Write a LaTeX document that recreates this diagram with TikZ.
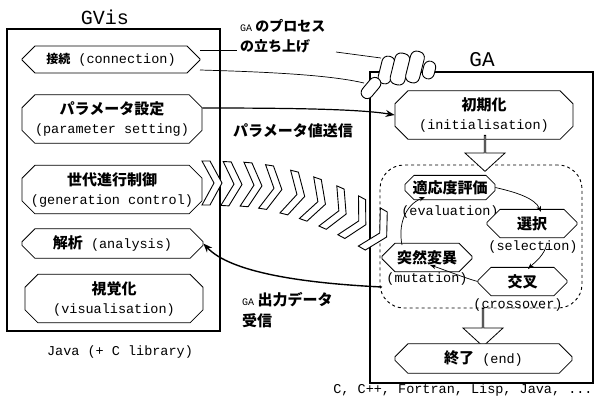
\documentclass[tikz,border=0pt]{standalone}
\usepackage{fontspec}
\setmonofont{Liberation Mono}
\newfontfamily\jpfam{Noto Sans CJK JP}
\usetikzlibrary{shapes.misc,shapes.arrows,arrows.meta}
\newcommand\JB[1]{{\jpfam\bfseries\fontsize{15}{19}\selectfont #1}}
\newcommand\JS[1]{{\jpfam\bfseries\fontsize{12}{15}\selectfont #1}}
\newcommand\GAsmall{{\ttfamily\mdseries\fontsize{10}{12}\selectfont GA}}
\tikzset{
  frame/.style={draw, line width=2.6pt, minimum width=#1},
  proc/.style={chamfered rectangle, chamfered rectangle xsep=6pt, chamfered rectangle ysep=7pt,
     draw, line width=0.8pt, fill=white, inner sep=0pt, align=center,
     font=\ttfamily\fontsize{13.5}{19}\selectfont},
  mono/.style={font=\ttfamily\fontsize{13.5}{16}\selectfont, inner sep=0pt},
  jtxt/.style={font=\jpfam\bfseries\fontsize{15}{21}\selectfont, inner sep=0pt, align=left},
  jlab/.style={font=\jpfam\bfseries\fontsize{14}{20}\selectfont, inner sep=0pt, align=left, anchor=north west},
  conn/.style={line width=0.7pt},
  bigarrow/.style={single arrow, draw, fill=white, line width=0.8pt, shape border rotate=270,
     inner sep=0pt, minimum width=40pt, single arrow head extend=10pt, single arrow tip angle=95},
  chev/.pic={\draw[fill=white, line width=0.9pt] (-10,-22) -- (-2,-22) -- (10,0) -- (-2,22) -- (-10,22) -- (2,0) -- cycle;},
  finger/.style={draw, fill=white, line width=0.9pt, rounded corners=6pt},
}
\begin{document}
\begin{tikzpicture}[x=1pt,y=-1pt]
\useasboundingbox (0,0) rectangle (597,408);
% frames
\node[frame=213pt, minimum height=302pt] (gvis) at (113.5,180) {};
\node[font=\ttfamily\fontsize{20}{22}\selectfont, inner sep=0pt] (gvist) at (105,17) {GVis};
\node[frame=223pt, minimum height=311pt] (ga) at (481.5,227.5) {};
\node[font=\ttfamily\fontsize{21}{22}\selectfont, inner sep=0pt] (gat) at (482,60) {GA};
\node[draw, dashed, line width=0.9pt, rounded corners=24pt, minimum width=202pt, minimum height=143pt] (loop) at (481,236.5) {};

% GVis nodes
\node[proc, minimum width=178pt, minimum height=27pt] (cn) at (111,59.5) {\JS{接続} (connection)};
\node[proc, minimum width=180pt, minimum height=42pt] (param) at (112,119) {\JB{パラメータ設定}\\(parameter setting)};
\node[proc, minimum width=180pt, minimum height=45pt] (gen) at (112,189.5) {\JB{世代進行制御}\\(generation control)};
\node[proc, minimum width=181pt, minimum height=27pt] (ana) at (112.5,243.5) {\JB{解析} (analysis)};
\node[proc, minimum width=178pt, minimum height=37pt] (vis) at (114,298.5) {\JB{視覚化}\\(visualisation)};
\node[mono] (java) at (120,352) {Java (+ C library)};

% GA nodes
\node[proc, minimum width=178pt, minimum height=40pt] (init) at (484,115) {\JB{初期化}\\(initialisation)};
\node[bigarrow, minimum height=36pt] (a1) at (485,153) {};
\node[proc, chamfered rectangle xsep=4pt, chamfered rectangle ysep=5pt, minimum width=90pt, minimum height=20pt] (eval) at (450,187.5) {\JB{適応度評価}};
\node[mono] (evalt) at (450,212) {(evaluation)};
\node[proc, minimum width=90pt, minimum height=24pt] (sel) at (532,223.5) {\JB{選択}};
\node[mono] (selt) at (533,247) {(selection)};
\node[proc, minimum width=90pt, minimum height=25pt] (mut) at (427,257.5) {\JB{突然変異}};
\node[mono] (mutt) at (427,279) {(mutation)};
\node[proc, minimum width=89pt, minimum height=27pt] (cro) at (522.5,281.5) {\JB{交叉}};
\node[mono] (crot) at (518,305) {(crossover)};
\node[bigarrow, minimum height=38pt] (a2) at (483,327) {};
\node[proc, minimum width=177pt, minimum height=24pt] (fin) at (483.5,358.5) {\JB{終了} (end)};
\node[mono] (langs) at (463,390) {C, C++, Fortran, Lisp, Java, ...};

% loop arrows
\draw[conn, -{Stealth[length=6pt]}] (eval.east) .. controls (515,192) and (535,198) .. (541,212);
\draw[conn, -{Stealth[length=6pt]}] (547,243) .. controls (545,255) and (535,262) .. (528,269);
\draw[conn, -{Stealth[length=6pt]}] (cro.west) .. controls (465,278) and (445,270) .. (430,265);
\draw[conn, -{Stealth[length=6pt]}] (402,245) .. controls (398,225) and (405,205) .. (425,197);

% chevrons
\pic at (212,183) {chev};
\pic[rotate=-3] at (232,184) {chev};
\pic[rotate=-5] at (252,185) {chev};
\pic[rotate=-9] at (272,188) {chev};
\pic[rotate=-14] at (295,194) {chev};
\pic[rotate=-19] at (316,201) {chev};
\pic[rotate=-24] at (337,210) {chev};
\pic[rotate=-28] at (357,220) {chev};
\pic[rotate=-30] at (378,232) {chev};

% label: GA process start
\node[jlab] (lab1) at (240,19) {\GAsmall{} のプロセス\\の立ち上げ};
\coordinate (l1a) at (237,50);
\coordinate (l1b) at (336,52);
\draw[conn] (200,50) -- (l1a);

% hand
\draw[finger, rotate around={-14:(386.5,70)}] (380,56) rectangle (393,84);
\draw[finger, rotate around={-14:(400,69)}] (392.5,53) rectangle (407.5,85);
\draw[finger, rotate around={-14:(415,67)}] (408,51) rectangle (422,83);
\draw[finger, rotate around={-14:(429,70)}] (423,61) rectangle (435,79);
\draw[finger, rotate around={-40:(371,88)}] (365,76) rectangle (377,100);
\coordinate (f1) at (381,58);
\coordinate (thumb) at (364,83);
\draw[conn] (l1b) -- (f1);
\draw[conn] (200,70) .. controls (270,72) and (330,75) .. (thumb);

% parameter send
\draw[line width=1.2pt, -{Stealth[length=9pt,width=7pt]}] (param.east |- 0,108) .. controls (290,108) and (360,109) .. (init.west);
\node[jtxt] (lab2) at (293,131) {パラメータ値送信};

% output receive
\draw[line width=1.4pt, -{Stealth[length=9pt,width=7pt]}] (382,287) .. controls (300,283) and (230,272) .. (ana.east);
\node[jlab, font=\jpfam\bfseries\fontsize{15}{21}\selectfont] (lab3) at (242,292) {\GAsmall{} 出力データ\\受信};
\end{tikzpicture}
\end{document}
